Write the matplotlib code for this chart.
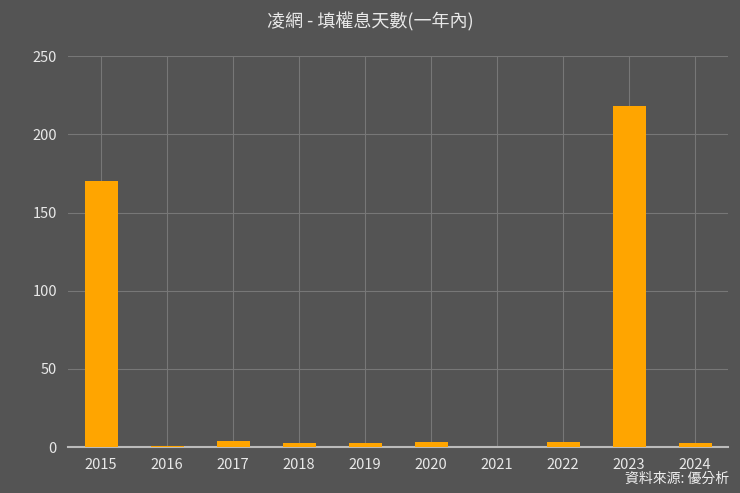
import matplotlib
matplotlib.use("Agg")
import matplotlib.pyplot as plt

plt.rcParams['font.family'] = ['Noto Sans CJK TC', 'DejaVu Sans']

years = ['2015','2016','2017','2018','2019','2020','2021','2022','2023','2024']
days = [170, 0.5, 4, 2.5, 2.5, 3, 0, 3, 218, 2.5]
yticks = [0, 50, 100, 150, 200, 250]

bg = '#545454'
fig = plt.figure(figsize=(7.4, 4.93), dpi=100, facecolor=bg)
ax = fig.add_axes([0.092, 0.093, 0.892, 0.793], facecolor=bg)
x = range(len(years))
ax.bar(x, days, width=0.5, color='#FFA500', zorder=3)
ax.set_xlim(-0.5, len(years) - 0.5)
ax.set_ylim(0, 250)
ax.set_yticks(yticks)
ax.set_xticks(list(x))
ax.set_xticklabels(years)
ax.grid(True, color='#777777', linewidth=0.8, zorder=0)
for s in ['top', 'right', 'left']:
    ax.spines[s].set_visible(False)
ax.spines['bottom'].set_color('#bbbbbb')
ax.spines['bottom'].set_linewidth(1.5)
ax.tick_params(colors='#e8e8e8', labelsize=10.5, length=0, pad=8)
fig.text(0.5, 0.955, '凌網 - 填權息天數(一年內)', ha='center', va='center', color='#e8e8e8', fontsize=13)
fig.text(0.985, 0.015, '資料來源: 優分析', ha='right', va='bottom', color='#f0f0f0', fontsize=10)
fig.savefig('out.png', facecolor=bg)
